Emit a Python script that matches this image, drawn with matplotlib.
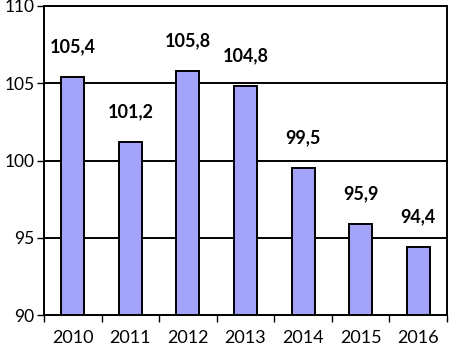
import matplotlib.pyplot as plt

years = ['2010', '2011', '2012', '2013', '2014', '2015', '2016']
values = [105.4, 101.2, 105.8, 104.8, 99.5, 95.9, 94.4]
labels = ['105,4', '101,2', '105,8', '104,8', '99,5', '95,9', '94,4']

plt.rcParams['font.family'] = ['Lato', 'DejaVu Sans']

fig = plt.figure(figsize=(4.49, 3.46), dpi=100)
ax = fig.add_axes([44 / 449, 31 / 346, 403 / 449, 309 / 346])

x = range(len(years))
ax.bar(x, [v - 90 for v in values], bottom=90, width=0.4,
       color='#a3a3fa', edgecolor='black', linewidth=1.4, zorder=3)

for i, (v, lab) in enumerate(zip(values, labels)):
    ax.annotate(lab, (i, v), xytext=(0, 22), textcoords='offset points',
                ha='center', va='center', fontsize=13, fontweight='bold')

ax.set_xlim(-0.5, len(years) - 0.5)
ax.set_ylim(90, 110)
ax.set_yticks([90, 95, 100, 105, 110])
ax.set_yticklabels(['90', '95', '100', '105', '110'])
ax.yaxis.grid(True, color='black', linewidth=1.4, zorder=0)
ax.set_axisbelow(True)

ax.set_xticks(x)
ax.set_xticklabels(years)
ax.set_xticks([i - 0.5 for i in range(len(years) + 1)], minor=True)
ax.tick_params(axis='x', which='major', length=0, pad=11, labelsize=13)
ax.tick_params(axis='x', which='minor', length=5, width=1, direction='out')
ax.tick_params(axis='y', length=5, width=1, labelsize=12.5, pad=2)

for s in ax.spines.values():
    s.set_linewidth(1.4)
    s.set_color('black')

fig.savefig('out.png', dpi=100)
